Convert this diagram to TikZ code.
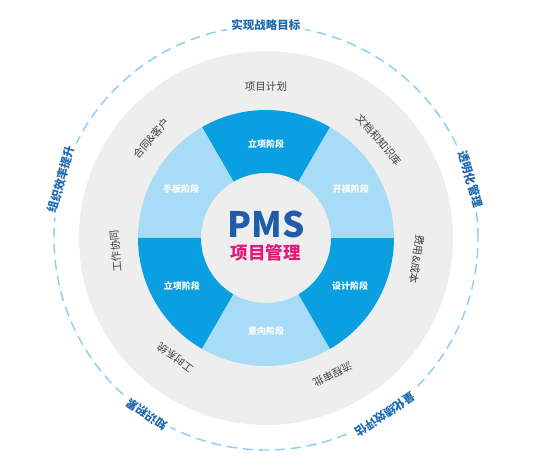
\documentclass[tikz,border=0pt]{standalone}
\usepackage{fontspec}
\setmainfont{Noto Sans CJK SC}
\usepackage{tikz}
\usetikzlibrary{positioning}
\definecolor{pmsblue}{HTML}{1F5DA8}
\definecolor{pmspink}{HTML}{E3197D}
\definecolor{segdark}{HTML}{0A9FE0}
\definecolor{seglight}{HTML}{A8DBF5}
\definecolor{diskgray}{HTML}{EEEEEF}
\definecolor{dashblue}{HTML}{88CEF0}
\definecolor{goalblue}{HTML}{1C68B2}
\definecolor{funcgray}{HTML}{404040}
\newcommand {\ringseg}[3] {\fill[#3] (#1:65) arc (#1:#2:65) -- (#2:128) arc (#2:#1:128) -- cycle;}
\newcommand {\arctext}[5] {\node[#4, rotate=#2-90] (#1) at (#2:#3) {#5};}

\begin{document}
\begin{tikzpicture}[x=1pt, y=1pt,
    goal/.style={fill=white, text=goalblue, inner sep=4pt,
                 font=\fontsize{11.5}{13}\selectfont\bfseries},
    func/.style={text=funcgray, inner sep=1pt, font=\fontsize{10.5}{12}\selectfont},
    stage/.style={text=white, inner sep=1pt, font=\fontsize{9}{11}\selectfont\bfseries}]
        \useasboundingbox (-266,-232) rectangle (269,238);
        \fill[diskgray] (0,0) circle (187);
        \draw[dashblue, line width=1.4pt, dash pattern=on 10pt off 6pt] (0,0) circle (212);
        \ringseg{60}{120}{segdark};
        \ringseg{120}{180}{seglight};
        \ringseg{180}{240}{segdark};
        \ringseg{240}{300}{seglight};
        \ringseg{300}{360}{segdark};
        \ringseg{0}{60}{seglight};
        % stages
        \node[stage] (s1) at (90:94) {立项阶段};
        \node[stage] (s2) at (30:98) {开模阶段};
        \node[stage] (s3) at (-30:97) {设计阶段};
        \node[stage] (s4) at (-90:93) {意向阶段};
        \node[stage] (s5) at (210:97) {立项阶段};
        \node[stage] (s6) at (150:98) {手板阶段};
        % centre
        \node[text=pmsblue, font=\fontsize{35}{36}\selectfont\bfseries, inner sep=0pt] (pms) at (0,14) {PMS};
        \node[text=pmspink, font=\fontsize{17.5}{19}\selectfont\bfseries, inner sep=0pt, below=6pt of pms] (pm) {项目管理};
        % functions
        \arctext{f1}{90}{151}{func}{项目计划};
        \arctext{f2}{41}{150}{func}{文档和知识库};
        \arctext{f3}{-8}{152}{func}{费用\&成本};
        \arctext{f4}{-64}{152}{func}{流程审批};
        \arctext{f5}{-127}{150}{func}{工时系统};
        \arctext{f6}{-175}{151}{func}{工作协同};
        \arctext{f7}{139}{152}{func}{合同\&客户};
        % goals
        \arctext{g1}{90}{213}{goal}{实现战略目标};
        \arctext{g2}{16}{213}{goal}{透明化管理};
        \arctext{g3}{-56}{213}{goal}{量化绩效评估};
        \arctext{g4}{-124}{213}{goal}{知识积累};
        \arctext{g5}{164}{213}{goal}{组织效率提升};
    \end{tikzpicture}
\end{document}
